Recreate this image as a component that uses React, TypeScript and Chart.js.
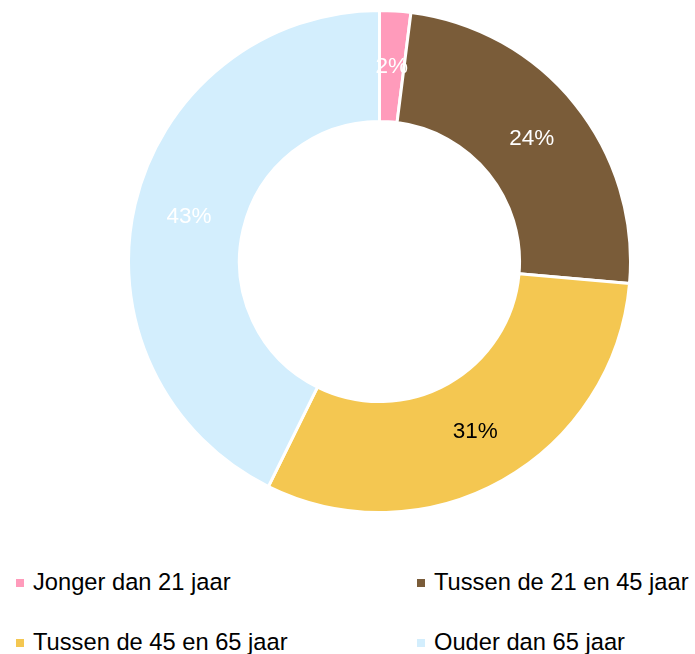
import React, { useEffect, useRef } from "react";
import { Chart, registerables } from "chart.js";

Chart.register(...registerables);

const categories = [
  "Jonger dan 21 jaar",
  "Tussen de 21 en 45 jaar",
  "Tussen de 45 en 65 jaar",
  "Ouder dan 65 jaar",
];
const values = [2.0, 24.4, 30.9, 42.7];
const colors = ["#FF9BBB", "#7A5C39", "#F4C751", "#D3EEFD"];
const labelColors = ["#FFFFFF", "#FFFFFF", "#000000", "#FFFFFF"];

const FONT = '"Liberation Sans", Arial, Helvetica, sans-serif';

const labelPlugin = {
  id: "sliceLabels",
  afterDatasetsDraw(chart: any) {
    const ctx = chart.ctx;
    const meta = chart.getDatasetMeta(0);
    const total = values.reduce((a, b) => a + b, 0);
    ctx.save();
    ctx.font = `22.5px ${FONT}`;
    ctx.textAlign = "center";
    ctx.textBaseline = "middle";
    meta.data.forEach((arc: any, i: number) => {
      const p = arc.tooltipPosition();
      ctx.fillStyle = labelColors[i];
      ctx.fillText(`${Math.round((values[i] / total) * 100)}%`, p.x, p.y);
    });
    ctx.restore();
  },
};

export default function App() {
  const ref = useRef<HTMLCanvasElement | null>(null);

  useEffect(() => {
    if (!ref.current) return;
    const chart = new Chart(ref.current, {
      type: "doughnut",
      data: {
        labels: categories,
        datasets: [
          {
            data: values,
            backgroundColor: colors,
            borderColor: "#FFFFFF",
            borderWidth: 3,
            hoverOffset: 0,
          },
        ],
      },
      options: {
        responsive: false,
        animation: false,
        cutout: "55.8%",
        layout: { padding: 0 },
        plugins: {
          legend: { display: false },
          tooltip: { enabled: false },
        },
      },
      plugins: [labelPlugin],
    });
    return () => chart.destroy();
  }, []);

  const legendPos = [
    { left: 16, top: 579 },
    { left: 417, top: 579 },
    { left: 16, top: 639 },
    { left: 417, top: 639 },
  ];

  return (
    <div
      style={{
        position: "absolute",
        left: 0,
        top: 0,
        width: 695,
        height: 654,
        background: "#FFFFFF",
        overflow: "hidden",
        fontFamily: FONT,
      }}
    >
      <canvas
        ref={ref}
        width={505}
        height={505}
        style={{ position: "absolute", left: 127, top: 9, width: 505, height: 505 }}
      />
      {categories.map((c, i) => (
        <React.Fragment key={c}>
          <div
            style={{
              position: "absolute",
              left: legendPos[i].left,
              top: legendPos[i].top,
              width: 8,
              height: 8,
              background: colors[i],
            }}
          />
          <div
            style={{
              position: "absolute",
              left: legendPos[i].left + 17,
              top: legendPos[i].top - 10,
              fontSize: 23.7,
              lineHeight: "normal",
              color: "#000000",
              whiteSpace: "nowrap",
            }}
          >
            {c}
          </div>
        </React.Fragment>
      ))}
    </div>
  );
}
